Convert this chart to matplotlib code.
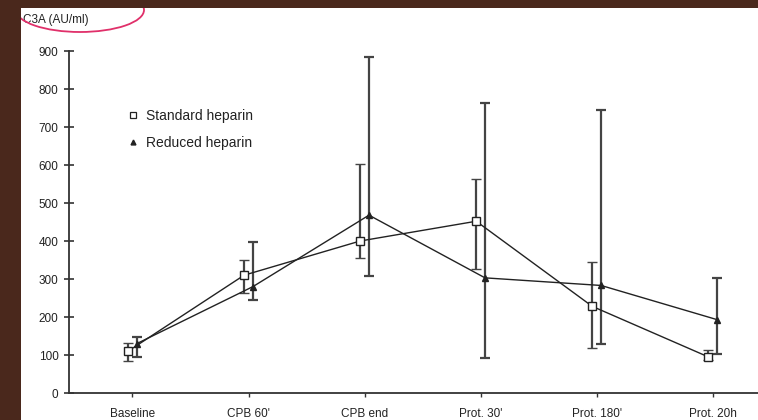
import numpy as np
import matplotlib
matplotlib.use('Agg')
import matplotlib.pyplot as plt
from matplotlib.patches import Rectangle, Ellipse

plt.rcParams['font.family'] = ['Liberation Sans', 'DejaVu Sans']

timepoints = ['Baseline', "CPB 60'", 'CPB end', "Prot. 30'", "Prot. 180'", 'Prot. 20h']

# C3A, mean with lower / upper limits of the error bars
std_mean = np.array([110, 310, 400, 452, 228, 95])
std_low = np.array([85, 262, 355, 327, 118, 88])
std_high = np.array([132, 350, 602, 563, 344, 112])

red_mean = np.array([130, 280, 468, 303, 283, 193])
red_low = np.array([95, 245, 308, 92, 128, 103])
red_high = np.array([148, 397, 885, 762, 745, 302])

W, H = 758, 420
fig = plt.figure(figsize=(W / 100, H / 100), dpi=100)
fig.patch.set_facecolor('#4a281c')

# white page behind the chart
page = Rectangle((21 / W, 0), 1 - 21 / W, (H - 8) / H, transform=fig.transFigure,
                 facecolor='white', edgecolor='none', zorder=-10)
fig.patches.append(page)

ax = fig.add_axes([69 / W, (H - 393) / H, (W - 69) / W, 342 / H])
ax.set_facecolor('none')
ax.set_zorder(1)

x = np.arange(len(timepoints))
dx = 0.038
ink = '#222222'

ax.errorbar(x - dx, std_mean, yerr=[std_mean - std_low, std_high - std_mean],
            color=ink, lw=1.0, marker='s', ms=5.5, mfc='white', mec=ink, mew=1.0,
            ecolor='#444444', elinewidth=1.6, capsize=3.5, capthick=1.6, zorder=3)
ax.errorbar(x + dx, red_mean, yerr=[red_mean - red_low, red_high - red_mean],
            color=ink, lw=1.0, marker='^', ms=5, mfc=ink, mec=ink,
            ecolor='#444444', elinewidth=1.6, capsize=3.5, capthick=1.6, zorder=3)

ax.set_xlim(-0.547, 5.39)
ax.set_ylim(0, 900)
ax.set_yticks(np.arange(0, 901, 100))
ax.set_xticks(x)
ax.set_xticklabels(timepoints)

for s in ['top', 'right']:
    ax.spines[s].set_visible(False)
for s in ['left', 'bottom']:
    ax.spines[s].set_color('#333333')
    ax.spines[s].set_linewidth(1.3)

ax.tick_params(axis='y', direction='inout', length=7, width=1.2, color='#333333',
               labelsize=8.5, labelcolor='#222222', pad=4)
ax.tick_params(axis='x', direction='out', length=3, width=1.0, color='#333333',
               labelsize=8.5, labelcolor='#222222', pad=8)

fig.text(23 / W, 1 - 20 / H, 'C3A (AU/ml)', fontsize=8.5, color='#222222',
         ha='left', va='center')

# legend, markers only
hs = ax.plot([], [], ls='none', marker='s', ms=4, mfc='white', mec=ink, mew=0.9)[0]
hr = ax.plot([], [], ls='none', marker='^', ms=3.5, mfc=ink, mec=ink)[0]
leg = ax.legend([hs, hr], ['Standard heparin', 'Reduced heparin'],
                loc='upper left', bbox_to_anchor=((129 - 69) / (W - 69), (393 - 109) / 342),
                frameon=False, fontsize=10, handlelength=0.6, handletextpad=0.6,
                labelspacing=0.95, borderaxespad=0, borderpad=0)
for t in leg.get_texts():
    t.set_color('#222222')

# red marking around the axis title
ring = Ellipse((80 / W, 1 - 10 / H), 128 / W, 44 / H, transform=fig.transFigure,
               fill=False, edgecolor='#e0306a', lw=1.3, zorder=5)
fig.patches.append(ring)
ring.set_clip_path(page)

fig.savefig('out.png', dpi=100, facecolor=fig.get_facecolor())
